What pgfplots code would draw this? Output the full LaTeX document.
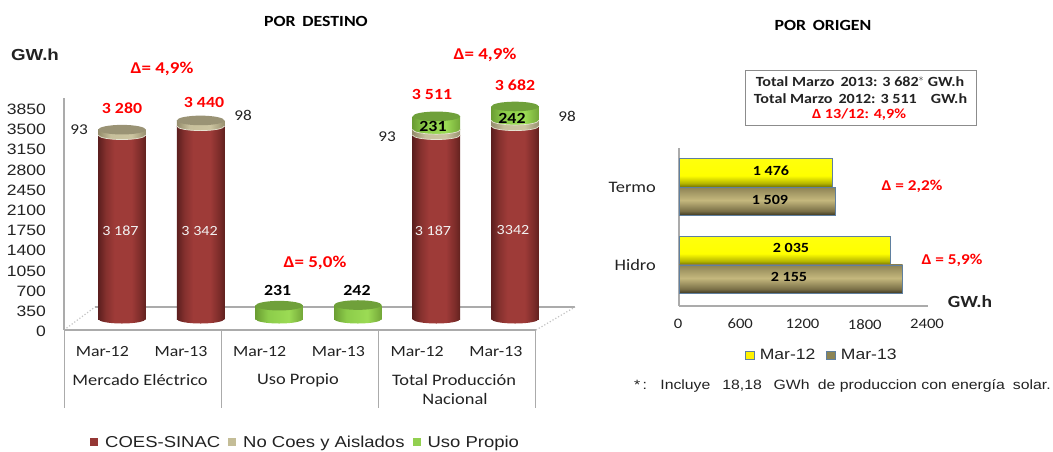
\documentclass[border=0pt]{standalone}
\usepackage{pgfplots}
\pgfplotsset{compat=1.18}
\usepackage{fontspec}
\setmainfont{Carlito}
\newfontfamily\cali[FakeStretch=1.15]{Carlito}
\newfontfamily\ari[FakeStretch=1.17]{Liberation Sans}
\newcommand\fs[1]{\fontsize{#1}{#1}\selectfont}
\newcommand\T[4]{\node[inner sep=0pt,#3] at (#1pt,-#2pt) {#4};}
\definecolor{rojo}{HTML}{FF0000}
\definecolor{txt}{HTML}{222222}
\definecolor{ejes}{HTML}{ABABAB}
\definecolor{rimcol}{HTML}{E6E3D2}
\definecolor{legred}{HTML}{953735}
\definecolor{legtan}{HTML}{C4BD97}
\definecolor{leggreen}{HTML}{92D050}
\definecolor{legoli}{HTML}{8C8454}
\definecolor{captan}{HTML}{9A9375}
\definecolor{capgreen}{HTML}{6FA03A}
\definecolor{baredge}{HTML}{5F7F9F}
\pgfdeclarehorizontalshading{redcyl}{100bp}{rgb(0bp)=(.36,.12,.12);rgb(25bp)=(.36,.12,.12);rgb(33bp)=(.52,.19,.18);rgb(42bp)=(.62,.23,.22);rgb(60bp)=(.62,.23,.22);rgb(70bp)=(.48,.17,.16);rgb(75bp)=(.38,.13,.12);rgb(100bp)=(.38,.13,.12)}
\pgfdeclarehorizontalshading{tancyl}{100bp}{rgb(0bp)=(.58,.55,.42);rgb(25bp)=(.58,.55,.42);rgb(38bp)=(.78,.75,.61);rgb(60bp)=(.80,.77,.63);rgb(75bp)=(.60,.57,.44);rgb(100bp)=(.60,.57,.44)}
\pgfdeclarehorizontalshading{greencyl}{100bp}{rgb(0bp)=(.42,.62,.20);rgb(25bp)=(.42,.62,.20);rgb(38bp)=(.55,.80,.29);rgb(60bp)=(.61,.86,.33);rgb(75bp)=(.45,.65,.22);rgb(100bp)=(.45,.65,.22)}
\pgfdeclareverticalshading{yelbar}{100bp}{rgb(0bp)=(.45,.45,0);rgb(25bp)=(.45,.45,0);rgb(32bp)=(.72,.72,0);rgb(45bp)=(1,1,0);rgb(75bp)=(1,1,.05);rgb(100bp)=(1,1,.05)}
\pgfdeclareverticalshading{olibar}{100bp}{rgb(0bp)=(.22,.20,.12);rgb(25bp)=(.22,.20,.12);rgb(33bp)=(.48,.44,.28);rgb(52bp)=(.77,.72,.49);rgb(75bp)=(.55,.51,.33);rgb(100bp)=(.55,.51,.33)}
\newcommand\cylend[1]{\pgfpathellipse{\pgfqpoint{0pt}{0pt}}{\pgfqpoint{23.75pt}{0pt}}{\pgfqpoint{0pt}{4.5pt}}\pgfshadepath{#1}{0}\pgfusepath{discard}}
\newcommand\cylrim{\pgfsetlinewidth{.7pt}\pgfsetstrokecolor{rimcol}\pgfpathmoveto{\pgfqpoint{-23.75pt}{0pt}}\pgfpatharc{180}{360}{23.75pt and 4.5pt}\pgfusepathqstroke}
\pgfdeclareplotmark{redell}{\cylend{redcyl}}
\pgfdeclareplotmark{greenell}{\cylend{greencyl}}
\pgfdeclareplotmark{tanrim}{\cylend{tancyl}\cylrim}
\pgfdeclareplotmark{greenrim}{\cylend{greencyl}\cylrim}
\pgfdeclareplotmark{capell}{\pgfpathellipse{\pgfqpoint{0pt}{0pt}}{\pgfqpoint{23.75pt}{0pt}}{\pgfqpoint{0pt}{4.8pt}}\pgfusepathqfill}
\pgfplotsset{
 cyl/.style={at={(62pt,-319pt)},anchor=south west,scale only axis,width=513pt,height=231pt,
  xmin=-0.763,xmax=5.763,ymin=0,ymax=4002,clip=false},
 cylbars/.style={cyl,ybar stacked,bar width=47.5pt,hide axis},
 redbar/.style={shade,shading=redcyl,draw=none},
 tanbar/.style={shade,shading=tancyl,draw=none},
 greenbar/.style={shade,shading=greencyl,draw=none},
 hb/.style={at={(679pt,-306pt)},anchor=south west,scale only axis,width=249pt,height=158pt,
  xmin=0,xmax=2400,ymin=-0.526,ymax=1.5},
 yelb/.style={xbar,bar width=28.5pt,bar shift=14.25pt,shade,shading=yelbar,draw=baredge,line width=.5pt},
 olib/.style={xbar,bar width=28.5pt,bar shift=-14.25pt,shade,shading=olibar,draw=baredge,line width=.5pt},
}
\begin{document}
\begin{tikzpicture}
\path[use as bounding box] (0pt,0pt) rectangle (1053pt,-451pt);
% frame of the left chart
\draw[ejes,line width=1.5pt] (95pt,-307pt) -- (575pt,-307pt);
\draw[ejes!70,line width=1.2pt,dotted] (64pt,-330pt) -- (95pt,-307pt);
\draw[ejes!70,line width=1.2pt,dotted] (536pt,-330pt) -- (575pt,-307pt);
\foreach \xx in {64,221,378,535.5} \draw[ejes,line width=.8pt] (\xx pt,-330pt) -- (\xx pt,-408pt);
\begin{axis}[name=frame,at={(64pt,-330pt)},anchor=south west,scale only axis,width=471.5pt,height=232pt,
 xmin=-0.4867,xmax=5.504,ymin=0,ymax=4020,
 axis x line=bottom,axis y line=left,
 axis line style={-,ejes,line width=1.8pt},
 xtick={0,1,2,3,4,5},xticklabels={Mar-12,Mar-13,Mar-12,Mar-13,Mar-12,Mar-13},
 ytick={0,350,...,3850},
 major tick length=0pt,
 /pgf/number format/assume math mode=true,
 /pgf/number format/1000 sep={},
 xticklabel style={font=\cali\fs{15.5},text=txt,yshift=-16pt,inner sep=0pt},
 yticklabel style={font=\ari\fs{15},text=txt,inner sep=0pt,xshift=-18pt,yshift=-1.5pt},
]
\addplot[draw=none,forget plot] coordinates {(0,0)(5,0)};
\end{axis}
% stacked columns of the left chart, one axis for each, so that each is shaded by itself
\begin{axis}[cylbars]
\addplot[redbar] coordinates {(0,3187)};
\addplot[tanbar] coordinates {(0,93)};
\end{axis}
\begin{axis}[cylbars]
\addplot[redbar] coordinates {(1,3342)};
\addplot[tanbar] coordinates {(1,98)};
\end{axis}
\begin{axis}[cylbars]
\addplot[greenbar] coordinates {(2,231)};
\end{axis}
\begin{axis}[cylbars]
\addplot[greenbar] coordinates {(3,242)};
\end{axis}
\begin{axis}[cylbars]
\addplot[redbar] coordinates {(4,3187)};
\addplot[tanbar] coordinates {(4,93)};
\addplot[greenbar] coordinates {(4,231)};
\end{axis}
\begin{axis}[cylbars]
\addplot[redbar] coordinates {(5,3342)};
\addplot[tanbar] coordinates {(5,98)};
\addplot[greenbar] coordinates {(5,242)};
\end{axis}
% cylinder ends, at the heights of the stack; legend
\begin{axis}[cyl,hide axis,
 legend columns=3,
 legend style={at={(axis description cs:0.0546,-0.534)},anchor=west,draw=none,fill=none,inner sep=0pt,
   font=\ari\fs{15.8},text=txt,/tikz/every even column/.append style={column sep=6pt},
   /tikz/every odd column/.append style={column sep=5pt}},
 legend image code/.code={\path[#1] (0pt,-4pt) rectangle (8pt,4pt);},
]
\addplot[only marks,mark=redell,forget plot] coordinates {(0,0)(1,0)(4,0)(5,0)};
\addplot[only marks,mark=greenell,forget plot] coordinates {(2,0)(3,0)};
\addplot[only marks,mark=tanrim,forget plot] coordinates {(0,3187)(1,3342)(4,3187)(5,3342)};
\addplot[only marks,mark=greenrim,forget plot] coordinates {(4,3280)(5,3440)};
\addplot[only marks,mark=capell,mark options={fill=captan,draw=none},forget plot] coordinates {(0,3280)(1,3440)};
\addplot[only marks,mark=capell,mark options={fill=capgreen,draw=none},forget plot] coordinates {(2,231)(3,242)(4,3511)(5,3682)};
\addlegendimage{fill=legred,draw=none}\addlegendentry{COES-SINAC}
\addlegendimage{fill=legtan,draw=none}\addlegendentry{No Coes y Aislados}
\addlegendimage{fill=leggreen,draw=none}\addlegendentry{Uso Propio}
\end{axis}
% right chart
\begin{axis}[hb,
 axis x line=bottom,axis y line=left,
 axis line style={-,ejes,line width=1.5pt},
 xtick={0,600,1200,1800,2400},ytick={0,1},yticklabels={Hidro,Termo},
 major tick length=0pt,
 /pgf/number format/assume math mode=true,
 /pgf/number format/1000 sep={},
 xticklabel style={font=\cali\fs{14.5},text=txt,inner sep=0pt,yshift=-13pt,xshift=-1pt},
 yticklabel style={font=\cali\fs{16},text=txt,inner sep=0pt,xshift=-23pt},
 legend columns=2,
 legend style={at={(axis description cs:0.265,-0.31)},anchor=west,draw=none,fill=none,inner sep=0pt,
   font=\ari\fs{15},text=txt,/tikz/every even column/.append style={column sep=9pt},
   /tikz/every odd column/.append style={column sep=3pt}},
 legend image code/.code={\path[#1,draw=baredge,line width=.6pt] (0pt,-4pt) rectangle (9pt,4pt);},
]
\addplot[yelb,forget plot] coordinates {(2035,0)};
\addplot[yelb,forget plot] coordinates {(1476,1)};
\addplot[olib,forget plot] coordinates {(2155,0)};
\addplot[olib,forget plot] coordinates {(1509,1)};
\addlegendimage{fill=yellow}\addlegendentry{Mar-12}
\addlegendimage{fill=legoli}\addlegendentry{Mar-13}
\end{axis}
% text, left
\T{316}{21}{font=\cali\bfseries\fs{15.5}}{POR\, DESTINO}
\T{35}{55}{font=\ari\bfseries\fs{16},text=txt}{GW.h}
\foreach \xx/\yy/\tt in {162/69/{Δ= 4,9\%},485/55/{Δ= 4,9\%},315/263/{Δ= 5,0\%}}
 {\T{\xx}{\yy}{font=\cali\bfseries\fs{16.5},text=rojo}{\tt}}
\foreach \xx/\yy/\tt in {122/108/{3 280},204/102/{3 440},432/94/{3 511},515/85/{3 682}}
 {\T{\xx}{\yy}{font=\cali\bfseries\fs{15.5},text=rojo}{\tt}}
\foreach \xx/\yy/\tt in {79/130/93,243/115/98,387/137/93,567/116/98}
 {\T{\xx}{\yy}{font=\cali\fs{15},text=txt}{\tt}}
\foreach \xx/\yy/\tt in {433/126/231,512/118/242,277.6/290/231,357/290/242}
 {\T{\xx}{\yy}{font=\cali\bfseries\fs{15.5},text=black}{\tt}}
\foreach \xx/\yy/\tt in {120.5/231/{3 187},199.6/231/{3 342},433/231/{3 187},513/230/{3342}}
 {\T{\xx}{\yy}{font=\cali\fs{14},text=white!90!gray}{\tt}}
\T{140}{380}{font=\cali\fs{16},text=txt}{Mercado Eléctrico}
\T{298}{380}{font=\cali\fs{16},text=txt}{Uso Propio}
\T{454}{380}{font=\cali\fs{16},text=txt}{Total Producción}
\T{455}{399}{font=\cali\fs{16},text=txt}{Nacional}
% text, right
\T{823}{25}{font=\cali\bfseries\fs{15.5}}{POR\, ORIGEN}
\draw[black!45,line width=1pt] (745pt,-70pt) rectangle (976pt,-125pt);
\T{860}{82}{font=\cali\bfseries\fs{14},text=txt}{Total Marzo\, 2013: 3 682$^{*}$ GW.h}
\T{860.5}{98.5}{font=\cali\bfseries\fs{14},text=txt}{Total Marzo\, 2012: 3 511\quad GW.h}
\T{859}{115}{font=\cali\bfseries\fs{14},text=rojo}{Δ 13/12: 4,9\%}
\T{912}{186}{font=\cali\bfseries\fs{15},text=rojo}{Δ = 2,2\%}
\T{952}{260}{font=\cali\bfseries\fs{15},text=rojo}{Δ = 5,9\%}
\T{771}{171}{font=\cali\bfseries\fs{14},text=black}{1 476}
\T{770}{200}{font=\cali\bfseries\fs{14},text=black}{1 509}
\T{791}{248}{font=\cali\bfseries\fs{14},text=black}{2 035}
\T{789}{277}{font=\cali\bfseries\fs{14},text=black}{2 155}
\T{970}{302}{font=\cali\bfseries\fs{17},text=txt}{GW.h}
\T{842.5}{386}{font=\ari\fs{13.5},text=txt}{*\,:\;\; Incluye\;\; 18,18\;\; GWh\; de produccion con energía\; solar.}
\end{tikzpicture}
\end{document}
